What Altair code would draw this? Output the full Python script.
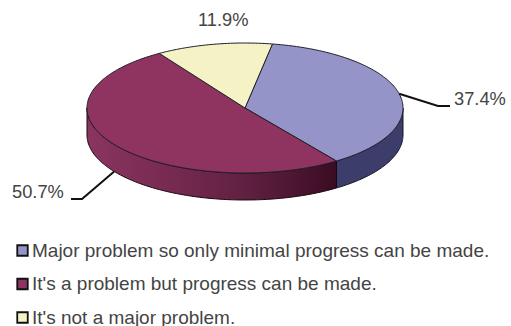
import math
import altair as alt
import pandas as pd

# Survey answers and their shares, in percent
categories = [
    "Major problem so only minimal progress can be made.",
    "It's a problem but progress can be made.",
    "It's not a major problem.",
]
shares = [37.4, 50.7, 11.9]
face_colors = ["#9494c9", "#8f3360", "#f5f2c6"]

W, H = 511, 326
CX, CY, RX, RY = 245.0, 108.0, 158.0, 65.0  # ellipse of the pie's top face, px
DEPTH = 27.0 / RY  # wall height in unit-ellipse terms
START_DEG = 10.0   # first slice begins here, clockwise from the top

x_scale = alt.Scale(domain=[-CX / RX, (W - CX) / RX], nice=False, zero=False)
y_scale = alt.Scale(domain=[(CY - H) / RY, CY / RY], nice=False, zero=False)
X = alt.X("x:Q", scale=x_scale, axis=None)
Y = alt.Y("y:Q", scale=y_scale, axis=None)


def rim(deg):
    a = math.radians(deg)
    return math.sin(a), math.cos(a)


def sweep(a0, a1, step=1.0):
    n = max(2, int(abs(a1 - a0) / step))
    return [a0 + (a1 - a0) * i / n for i in range(n + 1)]


# Slice boundaries, clockwise
edges = [START_DEG]
for s in shares:
    edges.append(edges[-1] + s * 3.6)

# Top faces: one closed polygon per slice
rows = []
for name, a0, a1 in zip(categories, edges, edges[1:]):
    order = 0
    rows.append({"name": name, "x": 0.0, "y": 0.0, "o": order})
    for d in sweep(a0, a1):
        order += 1
        x, y = rim(d)
        rows.append({"name": name, "x": x, "y": y, "o": order})
    order += 1
    rows.append({"name": name, "x": 0.0, "y": 0.0, "o": order})
faces = pd.DataFrame(rows)


def wall_frame(a0, a1):
    pts = []
    for d in sweep(a0, a1):
        x, y = rim(d)
        pts.append({"x": x, "y": y, "y2": y - DEPTH})
    return pd.DataFrame(pts)


# Visible side walls: the front part of the rim, from due east to due west
blue_wall = wall_frame(90.0, edges[1])
maroon_wall = wall_frame(edges[1], 270.0)

blue_side = alt.Chart(blue_wall).mark_area(
    fill="#3d3d6b", stroke="#15152a", strokeWidth=1
).encode(x=X, y=Y, y2="y2:Q")

maroon_side = alt.Chart(maroon_wall).mark_area(
    fill=alt.Gradient(
        gradient="linear", x1=0, x2=1, y1=0, y2=0,
        stops=[
            alt.GradientStop(offset=0, color="#8a3560"),
            alt.GradientStop(offset=0.35, color="#762a50"),
            alt.GradientStop(offset=0.65, color="#5f2040"),
            alt.GradientStop(offset=1, color="#3a0c22"),
        ],
    ),
    stroke="#1a0710",
    strokeWidth=1,
).encode(x=X, y=Y, y2="y2:Q")

top = alt.Chart(faces).mark_line(
    stroke="#20202a", strokeWidth=1, strokeJoin="round"
).encode(
    x=X,
    y=Y,
    order="o:Q",
    fill=alt.Fill(
        "name:N",
        scale=alt.Scale(domain=categories, range=face_colors),
        sort=categories,
        legend=alt.Legend(
            orient="none",
            legendX=13,
            legendY=241,
            title=None,
            symbolType="square",
            symbolSize=110,
            symbolStrokeColor="#111111",
            symbolStrokeWidth=1.8,
            labelFont="Liberation Sans",
            labelFontSize=19,
            labelFontWeight="normal",
            labelColor="#444444",
            labelLimit=500,
            labelOffset=0,
            rowPadding=13.5,
            padding=0,
        ),
    ),
)

# Leader lines run from the rim at each slice's middle angle to its label
mid_blue = (edges[0] + edges[1]) / 2
mid_maroon = (edges[1] + edges[2]) / 2
bx, by = rim(mid_blue)
mx, my = rim(mid_maroon)
my -= DEPTH


def unit(px, py):
    return (px - CX) / RX, (CY - py) / RY


leader_rows = []
for group, pts in (
    ("blue", [(bx, by), unit(438, 106), unit(450, 106)]),
    ("maroon", [(mx, my), unit(82, 199), unit(71, 199)]),
):
    for i, (x, y) in enumerate(pts):
        leader_rows.append({"g": group, "x": x, "y": y, "o": i})
leaders = alt.Chart(pd.DataFrame(leader_rows)).mark_line(
    stroke="#111111", strokeWidth=2
).encode(x=X, y=Y, detail="g:N", order="o:Q")

# Percent labels, written from the share values
label_pos = [(454, 100), (12, 193), (198, 21)]
labels = alt.layer(*[
    alt.Chart(pd.DataFrame({"t": [f"{v}%"]})).mark_text(
        align="left", font="Liberation Sans", fontSize=18.3, color="#444444"
    ).encode(text="t:N", x=alt.value(px), y=alt.value(py))
    for v, (px, py) in zip(shares, label_pos)
])

chart = alt.layer(blue_side, maroon_side, top, leaders, labels).properties(
    width=W,
    height=H,
    padding=0,
    autosize=alt.AutoSizeParams(type="none"),
    background="white",
).configure_view(stroke=None)

chart.save("out.html", embed_options={"renderer": "svg", "actions": False})
